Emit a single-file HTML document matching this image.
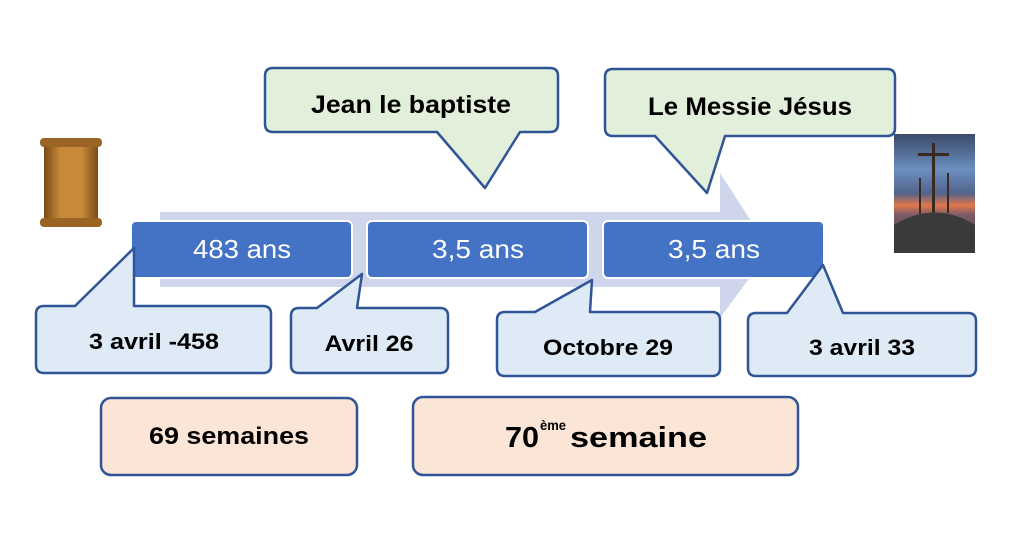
<!DOCTYPE html>
<html><head><meta charset="utf-8"><style>
html,body{margin:0;padding:0;background:#fff;}
svg{display:block;}
text{font-family:"Liberation Sans",sans-serif;}
</style></head><body>
<svg width="1024" height="534" viewBox="0 0 1024 534" xmlns="http://www.w3.org/2000/svg">
<defs>
<linearGradient id="scr" x1="0" x2="1"><stop offset="0" stop-color="#7a4a16"/><stop offset="0.3" stop-color="#c8893a"/><stop offset="0.7" stop-color="#c8893a"/><stop offset="1" stop-color="#7a4a16"/></linearGradient>
<linearGradient id="sky" x1="0" y1="0" x2="0" y2="1"><stop offset="0" stop-color="#3c4a6a"/><stop offset="0.3" stop-color="#6a8fbf"/><stop offset="0.5" stop-color="#52638a"/><stop offset="0.6" stop-color="#e0784a"/><stop offset="0.68" stop-color="#7a5a6a"/><stop offset="1" stop-color="#3a3a3a"/></linearGradient>
</defs>
<polygon points="160,212 720,212 720,173 770,250 720,318 720,287 160,287" fill="#CFD5EA"/>
<g fill="#4472C4" stroke="#fff" stroke-width="2">
<rect x="131" y="221" width="221" height="57" rx="5"/>
<rect x="367" y="221" width="221" height="57" rx="5"/>
<rect x="603" y="221" width="221" height="57" rx="5"/>
</g>
<g fill="#fff" font-size="26" text-anchor="middle">
<text x="242" y="258" textLength="98" lengthAdjust="spacingAndGlyphs">483 ans</text>
<text x="478" y="258" textLength="92" lengthAdjust="spacingAndGlyphs">3,5 ans</text>
<text x="714" y="258" textLength="92" lengthAdjust="spacingAndGlyphs">3,5 ans</text>
</g>
<g fill="#E2EFDA" stroke="#2F5597" stroke-width="2.5" stroke-linejoin="round">
<path d="M273,68 L550,68 Q558,68 558,76 L558,124 Q558,132 550,132 L520,132 L485,188 L437,132 L273,132 Q265,132 265,124 L265,76 Q265,68 273,68Z"/>
<path d="M613,69 L887,69 Q895,69 895,77 L895,128 Q895,136 887,136 L725,136 L707,193 L655,136 L613,136 Q605,136 605,128 L605,77 Q605,69 613,69Z"/>
</g>
<g font-size="25" font-weight="bold" text-anchor="middle" fill="#000">
<text x="411" y="113" textLength="200" lengthAdjust="spacingAndGlyphs">Jean le baptiste</text>
<text x="750" y="115" textLength="204" lengthAdjust="spacingAndGlyphs">Le Messie Jésus</text>
</g>
<g fill="#DEEBF7" stroke="#2F5597" stroke-width="2.5" stroke-linejoin="round">
<path d="M44,306 L75,306 L134,248 L134,306 L263,306 Q271,306 271,314 L271,365 Q271,373 263,373 L44,373 Q36,373 36,365 L36,314 Q36,306 44,306Z"/>
<path d="M299,308 L317,308 L362,274 L357,308 L440,308 Q448,308 448,316 L448,365 Q448,373 440,373 L299,373 Q291,373 291,365 L291,316 Q291,308 299,308Z"/>
<path d="M505,312 L535,312 L592,280 L590,312 L712,312 Q720,312 720,320 L720,368 Q720,376 712,376 L505,376 Q497,376 497,368 L497,320 Q497,312 505,312Z"/>
<path d="M756,313 L787,313 L823,265 L843,313 L968,313 Q976,313 976,321 L976,368 Q976,376 968,376 L756,376 Q748,376 748,368 L748,321 Q748,313 756,313Z"/>
</g>
<g font-size="22" font-weight="bold" text-anchor="middle" fill="#000">
<text x="154" y="349" textLength="130" lengthAdjust="spacingAndGlyphs">3 avril -458</text>
<text x="369" y="351" textLength="89" lengthAdjust="spacingAndGlyphs">Avril 26</text>
<text x="608" y="355" textLength="130" lengthAdjust="spacingAndGlyphs">Octobre 29</text>
<text x="862" y="355" textLength="106" lengthAdjust="spacingAndGlyphs">3 avril 33</text>
</g>
<g fill="#FBE5D6" stroke="#2F5597" stroke-width="2.5">
<rect x="101" y="398" width="256" height="77" rx="10"/>
<rect x="413" y="397" width="385" height="78" rx="10"/>
</g>
<text x="229" y="444" font-size="24" font-weight="bold" text-anchor="middle" textLength="160" lengthAdjust="spacingAndGlyphs">69 semaines</text>
<text x="505" y="447" font-size="29" font-weight="bold" textLength="34" lengthAdjust="spacingAndGlyphs">70</text>
<text x="540" y="430" font-size="14" font-weight="bold" textLength="26" lengthAdjust="spacingAndGlyphs">ème</text>
<text x="570" y="447" font-size="29" font-weight="bold" textLength="137" lengthAdjust="spacingAndGlyphs">semaine</text>
<rect x="44" y="143" width="54" height="80" fill="url(#scr)"/>
<rect x="40" y="138" width="62" height="9" rx="4" fill="#9a6424"/>
<rect x="40" y="218" width="62" height="9" rx="4" fill="#9a6424"/>
<rect x="894" y="134" width="81" height="119" fill="url(#sky)"/>
<rect x="932" y="143" width="3" height="70" fill="#3a2a20"/>
<rect x="918" y="153" width="31" height="3" fill="#3a2a20"/>
<rect x="919" y="178" width="2" height="36" fill="#3a2a20"/>
<rect x="947" y="173" width="2" height="40" fill="#3a2a20"/>
<path d="M894,253 L894,225 Q935,200 975,225 L975,253Z" fill="#3a3a38"/>
</svg>
</body></html>
